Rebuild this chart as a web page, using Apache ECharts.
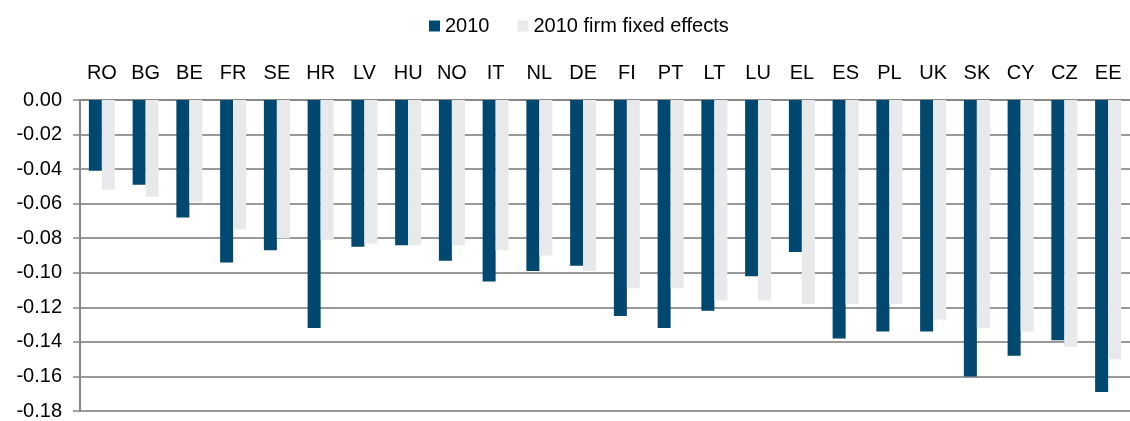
<!DOCTYPE html>
<html>
<head>
<meta charset="utf-8">
<script src="https://cdn.jsdelivr.net/npm/echarts@6/dist/echarts.min.js"></script>
<style>
  html, body { margin: 0; padding: 0; background: #fff; }
  #main { width: 1130px; height: 421px; }
</style>
</head>
<body>
<div id="main"></div>
<script>
var countries = ['RO', 'BG', 'BE', 'FR', 'SE', 'HR', 'LV', 'HU', 'NO', 'IT', 'NL', 'DE',
    'FI', 'PT', 'LT', 'LU', 'EL', 'ES', 'PL', 'UK', 'SK', 'CY', 'CZ', 'EE'];
var y2010 = [-0.041, -0.049, -0.068, -0.094, -0.087, -0.132, -0.085, -0.084, -0.093, -0.105, -0.099, -0.096,
    -0.125, -0.132, -0.122, -0.102, -0.088, -0.138, -0.134, -0.134, -0.160, -0.148, -0.139, -0.169];
var yFirmFE = [-0.052, -0.056, -0.059, -0.075, -0.080, -0.081, -0.083, -0.084, -0.084, -0.087, -0.090, -0.099,
    -0.109, -0.109, -0.116, -0.116, -0.118, -0.118, -0.118, -0.127, -0.132, -0.134, -0.143, -0.150];
var seriesNames = ['2010', '2010 firm fixed effects'];

window.onload = function() {
    var myChart = echarts.init(document.getElementById('main'));
    var font = 'Liberation Sans, Arial, sans-serif';

    var option = {
        animation: false,
        textStyle: { fontFamily: font },
        legend: {
            data: seriesNames,
            top: 11,
            left: 424,
            itemWidth: 11,
            itemHeight: 11,
            itemGap: 28,
            icon: 'rect',
            textStyle: { fontSize: 20, color: '#000', fontFamily: font }
        },
        grid: { left: 80, right: -8, top: 100, bottom: 8 },
        xAxis: {
            type: 'category',
            data: countries,
            position: 'top',
            axisLine: { lineStyle: { color: '#888', width: 2 } },
            axisTick: { inside: true, length: 5, lineStyle: { color: '#888', width: 1.5 } },
            axisLabel: { fontSize: 20, color: '#000', margin: 17 }
        },
        yAxis: {
            type: 'value',
            min: -0.18,
            max: 0,
            interval: 0.02,
            axisLine: { show: true, lineStyle: { color: '#888', width: 2 } },
            axisTick: { show: true, length: 7, lineStyle: { color: '#888', width: 1.5 } },
            splitLine: { lineStyle: { color: '#999', width: 2 } },
            axisLabel: {
                fontSize: 20, color: '#000', margin: 18,
                formatter: function(v) { return v.toFixed(2); }
            }
        },
        series: [{
            name: seriesNames[0],
            type: 'bar',
            data: y2010,
            barWidth: 13,
            barGap: '0%',
            itemStyle: { color: '#004870' }
        }, {
            name: seriesNames[1],
            type: 'bar',
            data: yFirmFE,
            barWidth: 13,
            itemStyle: { color: '#e8e9eb' }
        }]
    };

    myChart.setOption(option);
};
</script>
</body>
</html>
